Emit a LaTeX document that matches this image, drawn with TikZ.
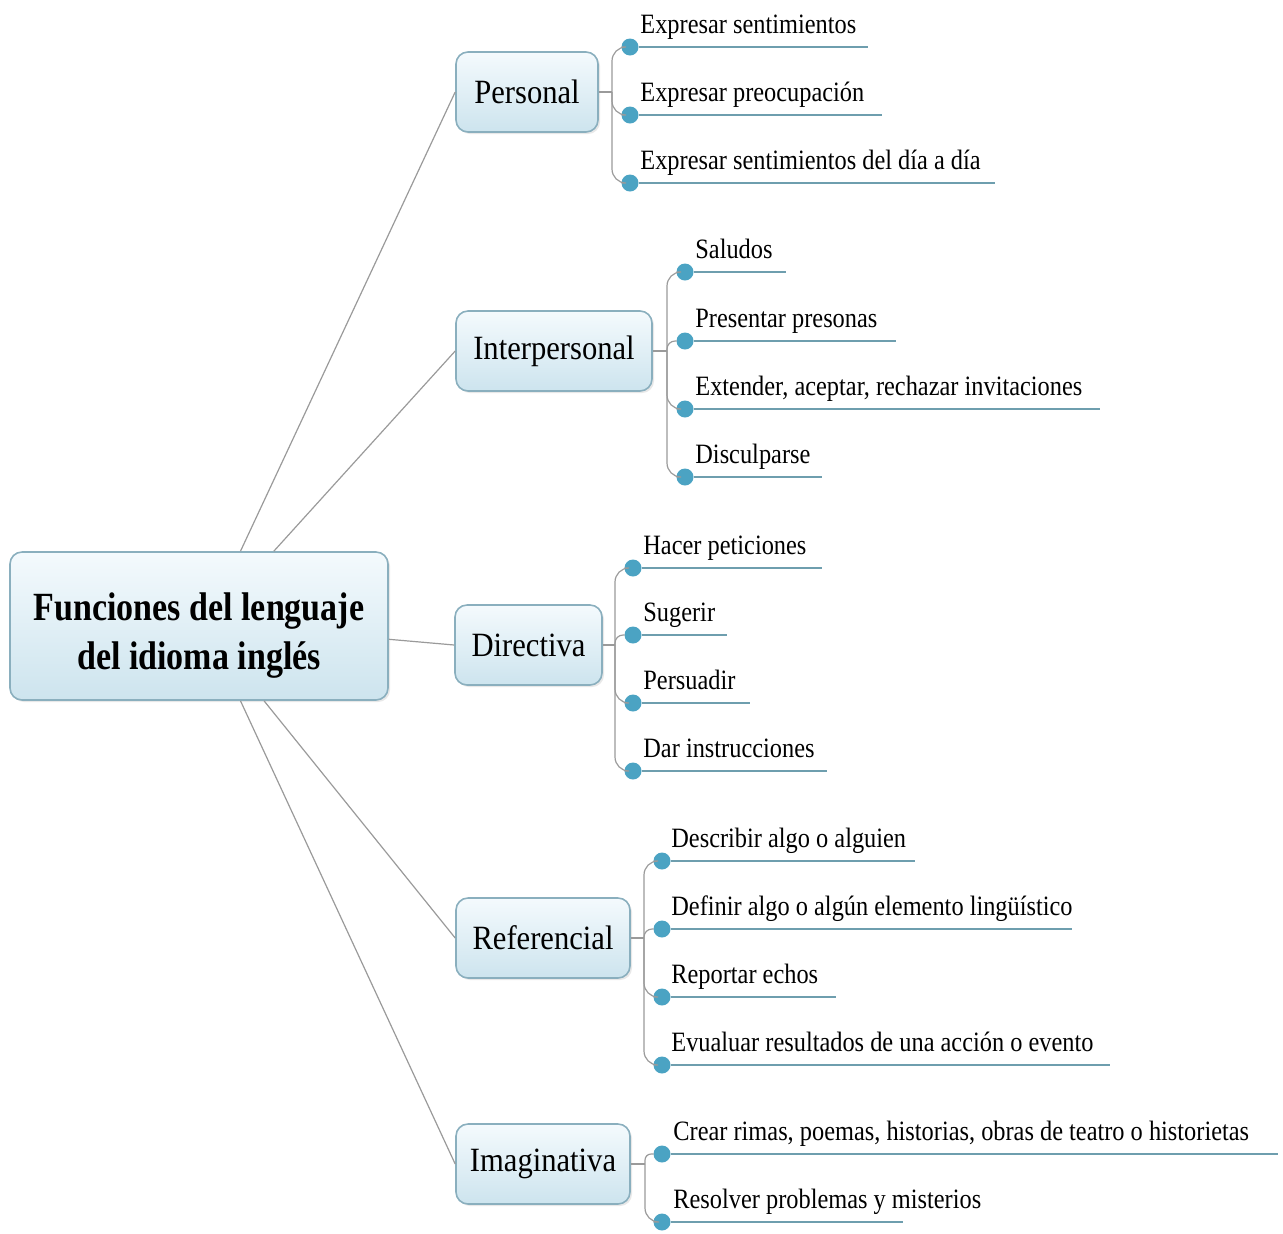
\documentclass[tikz,border=0pt]{standalone}
\usepackage{fontspec}
\setmainfont{Liberation Serif}
\newfontfamily\leaffont{Liberation Serif}[FakeStretch=0.87]
\newfontfamily\topicfont{Liberation Serif}[FakeStretch=0.9]
\newfontfamily\rootfont{Liberation Serif}[FakeStretch=0.85]
\usetikzlibrary{shadows}

\definecolor{boxline}{HTML}{8AAFBE}
\definecolor{boxtop}{HTML}{F4FAFD}
\definecolor{boxbot}{HTML}{CDE4EE}
\definecolor{dotblue}{HTML}{4BA3C3}
\definecolor{ulineblue}{HTML}{6E9EAE}
\definecolor{stemgray}{HTML}{9A9A9A}

\tikzset{
	topic/.style={draw=boxline,line width=0.8pt,rounded corners=6pt,top color=boxtop,bottom color=boxbot,drop shadow={opacity=0.18,shadow xshift=1pt,shadow yshift=-1pt},inner sep=0,minimum height=40pt,font=\topicfont\fontsize{17}{20}\selectfont},
	dot/.style={circle,fill=dotblue,inner sep=0,outer sep=0,minimum size=8.5pt},
	leaf/.style={anchor=base west,inner sep=0,font=\leaffont\fontsize{14}{16}\selectfont},
	stem/.style={draw=stemgray,line width=0.6pt},
	uline/.style={draw=ulineblue,line width=1pt},
}

\begin{document}
\begin{tikzpicture}[x=0.5pt,y=-0.5pt]
	\useasboundingbox (0,0) rectangle (1283,1233);
	\node[topic,minimum width=189pt,minimum height=74pt,align=center,font=\rootfont\bfseries\fontsize{20}{24.5}\selectfont] (root) at (199,626) {\rule{0pt}{23pt}Funciones del lenguaje\\del idioma inglés};
	\node[topic,minimum width=71pt] (pers) at (527,92) {Personal};
	\node[topic,minimum width=98pt] (inter) at (554,351) {Interpersonal};
	\node[topic,minimum width=73.5pt] (dir) at (528.5,645) {Directiva};
	\node[topic,minimum width=87pt] (ref) at (543,938) {Referencial};
	\node[topic,minimum width=87pt] (imag) at (543,1164) {Imaginativa};
	\draw[stem] (root.61) -- (pers.west);
	\draw[stem] (root.45) -- (inter.west);
	\draw[stem] (root.-4) -- (dir.west);
	\draw[stem] (root.-49) -- (ref.west);
	\draw[stem] (root.-61) -- (imag.west);

	\coordinate (pers-j) at (612,92);
	\node[dot] (p1) at (630,47) {};
	\node[dot] (p2) at (630,115) {};
	\node[dot] (p3) at (630,183) {};
	\coordinate (p1e) at (868,47);
	\coordinate (p2e) at (882,115);
	\coordinate (p3e) at (995,183);
	\node[leaf] (p1t) at (640,33) {Expresar sentimientos};
	\node[leaf] (p2t) at (640,101) {Expresar preocupación};
	\node[leaf] (p3t) at (640,169) {Expresar sentimientos del día a día};
	\draw[stem] (pers.east) -- (pers-j);
	\draw[stem,rounded corners=7pt] (pers-j) |- (p1);
	\draw[stem,rounded corners=7pt] (pers-j) |- (p2);
	\draw[stem,rounded corners=7pt] (pers-j) |- (p3);
	\draw[uline] (p1) -- (p1e);
	\draw[uline] (p2) -- (p2e);
	\draw[uline] (p3) -- (p3e);

	\coordinate (inter-j) at (667,351);
	\node[dot] (i1) at (685,272) {};
	\node[dot] (i2) at (685,341) {};
	\node[dot] (i3) at (685,409) {};
	\node[dot] (i4) at (685,477) {};
	\coordinate (i1e) at (786,272);
	\coordinate (i2e) at (896,341);
	\coordinate (i3e) at (1100,409);
	\coordinate (i4e) at (822,477);
	\node[leaf] (i1t) at (695,258) {Saludos};
	\node[leaf] (i2t) at (695,327) {Presentar presonas};
	\node[leaf] (i3t) at (695,395) {Extender, aceptar, rechazar invitaciones};
	\node[leaf] (i4t) at (695,463) {Disculparse};
	\draw[stem] (inter.east) -- (inter-j);
	\draw[stem,rounded corners=7pt] (inter-j) |- (i1);
	\draw[stem,rounded corners=4pt] (inter-j) |- (i2);
	\draw[stem,rounded corners=7pt] (inter-j) |- (i3);
	\draw[stem,rounded corners=7pt] (inter-j) |- (i4);
	\draw[uline] (i1) -- (i1e);
	\draw[uline] (i2) -- (i2e);
	\draw[uline] (i3) -- (i3e);
	\draw[uline] (i4) -- (i4e);

	\coordinate (dir-j) at (615,645);
	\node[dot] (d1) at (633,568) {};
	\node[dot] (d2) at (633,635) {};
	\node[dot] (d3) at (633,703) {};
	\node[dot] (d4) at (633,771) {};
	\coordinate (d1e) at (822,568);
	\coordinate (d2e) at (727,635);
	\coordinate (d3e) at (750,703);
	\coordinate (d4e) at (827,771);
	\node[leaf] (d1t) at (643,554) {Hacer peticiones};
	\node[leaf] (d2t) at (643,621) {Sugerir};
	\node[leaf] (d3t) at (643,689) {Persuadir};
	\node[leaf] (d4t) at (643,757) {Dar instrucciones};
	\draw[stem] (dir.east) -- (dir-j);
	\draw[stem,rounded corners=7pt] (dir-j) |- (d1);
	\draw[stem,rounded corners=4pt] (dir-j) |- (d2);
	\draw[stem,rounded corners=7pt] (dir-j) |- (d3);
	\draw[stem,rounded corners=7pt] (dir-j) |- (d4);
	\draw[uline] (d1) -- (d1e);
	\draw[uline] (d2) -- (d2e);
	\draw[uline] (d3) -- (d3e);
	\draw[uline] (d4) -- (d4e);

	\coordinate (ref-j) at (644,938);
	\node[dot] (r1) at (662,861) {};
	\node[dot] (r2) at (662,929) {};
	\node[dot] (r3) at (662,997) {};
	\node[dot] (r4) at (662,1065) {};
	\coordinate (r1e) at (915,861);
	\coordinate (r2e) at (1072,929);
	\coordinate (r3e) at (836,997);
	\coordinate (r4e) at (1110,1065);
	\node[leaf] (r1t) at (671,847) {Describir algo o alguien};
	\node[leaf] (r2t) at (671,915) {Definir algo o algún elemento lingüístico};
	\node[leaf] (r3t) at (671,983) {Reportar echos};
	\node[leaf] (r4t) at (671,1051) {Evualuar resultados de una acción o evento};
	\draw[stem] (ref.east) -- (ref-j);
	\draw[stem,rounded corners=7pt] (ref-j) |- (r1);
	\draw[stem,rounded corners=4pt] (ref-j) |- (r2);
	\draw[stem,rounded corners=7pt] (ref-j) |- (r3);
	\draw[stem,rounded corners=7pt] (ref-j) |- (r4);
	\draw[uline] (r1) -- (r1e);
	\draw[uline] (r2) -- (r2e);
	\draw[uline] (r3) -- (r3e);
	\draw[uline] (r4) -- (r4e);

	\coordinate (imag-j) at (645,1164);
	\node[dot] (m1) at (662,1154) {};
	\node[dot] (m2) at (662,1222) {};
	\coordinate (m1e) at (1278,1154);
	\coordinate (m2e) at (903,1222);
	\node[leaf] (m1t) at (673,1140) {Crear rimas, poemas, historias, obras de teatro o historietas};
	\node[leaf] (m2t) at (673,1208) {Resolver problemas y misterios};
	\draw[stem] (imag.east) -- (imag-j);
	\draw[stem,rounded corners=3pt] (imag-j) |- (m1);
	\draw[stem,rounded corners=7pt] (imag-j) |- (m2);
	\draw[uline] (m1) -- (m1e);
	\draw[uline] (m2) -- (m2e);
\end{tikzpicture}
\end{document}
